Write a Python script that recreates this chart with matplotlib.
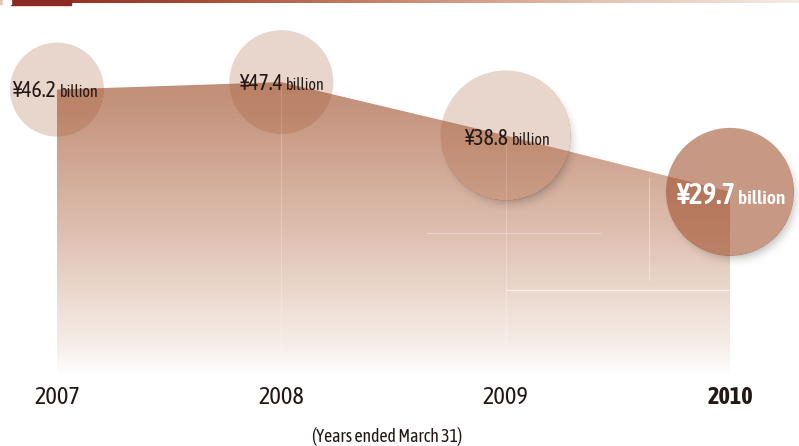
import numpy as np
import matplotlib.pyplot as plt
from matplotlib.colors import LinearSegmentedColormap
from matplotlib.patches import Ellipse, Polygon, Rectangle

# net income, billions of yen
years = [2007, 2008, 2009, 2010]
values = [46.2, 47.4, 38.8, 29.7]
value_labels = ["¥46.2", "¥47.4", "¥38.8", "¥29.7"]
year_labels = ["2007", "2008", "2009", "2010"]
note = "(Years ended March 31)"

plt.rcParams["font.family"] = ["Asap Condensed", "DejaVu Sans"]

W, H = 799, 446
fig = plt.figure(figsize=(W / 100, H / 100), dpi=100)
ax = fig.add_axes([0, 0, 1, 1])
ax.axis("off")

# pixel scale: 224.3 px per year, 6.2 px per billion, zero at 376 px from top
px_year = 224.33
px_val = 6.2
x0 = 2007 - 57 / px_year
xlim = (x0, x0 + W / px_year)
ylim = (-(H - 376) / px_val, 376 / px_val)
ax.set_xlim(*xlim)
ax.set_ylim(*ylim)

# gradient-filled area
stops = [(0, "#ffffff"), (4.7, "#f6eee9"), (12.7, "#ecdad0"),
         (23.5, "#debeaf"), (42.4, "#c69680"), (48, "#c28d76")]
cmap = LinearSegmentedColormap.from_list(
    "area", [(v / 48, c) for v, c in stops])
grad = np.linspace(0, 1, 400).reshape(-1, 1)
im = ax.imshow(grad, extent=(years[0], years[-1], 0, 48), origin="lower",
               aspect="auto", cmap=cmap, zorder=1)
area = Polygon([(years[0], 0)] + list(zip(years, values)) + [(years[-1], 0)],
               closed=True, facecolor="none", edgecolor="none")
ax.add_patch(area)
im.set_clip_path(area)

# faint panel lines inside the area
for yr, v in zip(years[1:3], values[1:3]):
    ax.plot([yr, yr], [0, v], color="white", lw=0.7, alpha=0.25, zorder=2)
ax.plot([years[2], years[3]], [13.9, 13.9], color="white", lw=0.8,
        alpha=0.6, zorder=2)
ax.plot([2008.65, 2009.42], [23.0, 23.0], color="white", lw=0.7,
        alpha=0.35, zorder=2)
ax.plot([2009.64, 2009.64], [15.5, 32.0], color="white", lw=0.7,
        alpha=0.4, zorder=2)

# soft shadows under the two later bubbles
radii = [47, 52, 65, 64]
yy, xx = np.mgrid[0:H, 0:W] + 0.5
shadow = np.zeros((H, W))
inside = np.zeros((H, W), dtype=bool)
for yr, v, r in list(zip(years, values, radii))[2:]:
    cx, cy = ax.transData.transform((yr, v))
    d = np.hypot(xx - (cx + 4), yy - (cy - 6))
    s = np.clip((r + 7 - d) / 14, 0, 1)
    shadow = np.maximum(shadow, s * s * 0.3)
    inside |= np.hypot(xx - cx, yy - cy) < r - 0.5
shadow[inside] = 0
rgba = np.zeros((H, W, 4))
rgba[..., :3] = [0.3, 0.27, 0.25]
rgba[..., 3] = shadow
ax.imshow(rgba, extent=(*xlim, *ylim), origin="lower", aspect="auto",
          zorder=3)
ax.set_xlim(*xlim)
ax.set_ylim(*ylim)

# bubbles
for i, (yr, v, r) in enumerate(zip(years, values, radii)):
    last = i == len(years) - 1
    ax.add_patch(Ellipse((yr, v), 2 * r / px_year, 2 * r / px_val,
                         facecolor="#9c4a26" if last else "#a0552c",
                         alpha=0.56 if last else 0.24,
                         edgecolor="none", zorder=4))

# value labels: big amount + small "billion"
label_style = [(15.5, 11.5, 0, 7), (15.5, 11.5, 2, 8), (15.5, 11.5, 3, 10),
               (21, 14, 5, 12)]
for i, (yr, v, lab) in enumerate(zip(years, values, value_labels)):
    big, small, dx, dy = label_style[i]
    last = i == len(years) - 1
    col = "white" if last else "#231815"
    wt = 600 if last else "normal"
    ax.annotate(lab, (yr, v), xytext=(dx, -dy), textcoords="offset pixels",
                ha="right", va="baseline", fontsize=big, color=col,
                fontweight=wt, zorder=6)
    ax.annotate("billion", (yr, v), xytext=(dx + 3, -dy),
                textcoords="offset pixels", ha="left", va="baseline",
                fontsize=small, color=col, fontweight=wt, zorder=6)

# year axis labels
for i, (yr, lab) in enumerate(zip(years, year_labels)):
    last = i == len(years) - 1
    ax.text(yr, -(398 - 376) / px_val, lab, ha="center", va="center",
            fontsize=17.5, color="#231815",
            fontweight="bold" if last else "normal")
fig.text(387 / W, 1 - 437 / H, note, ha="center", va="center",
         fontsize=12.8, color="#231815")

# header rule
bar = fig.add_axes([0, 1 - 3.5 / H, 1, 3.5 / H])
bar.axis("off")
hdr = LinearSegmentedColormap.from_list(
    "hdr", ["#8a261c", "#a84a36", "#c98a70", "#e3c2b0", "#f5ebe5"])
bar.imshow(np.linspace(0, 1, 400).reshape(1, -1), cmap=hdr, aspect="auto",
           extent=(0, W, 0, 1))
bar.set_xlim(0, W)
fig.patches.append(Rectangle((11 / W, 1 - 4.5 / H), 60 / W, 4.5 / H,
                             transform=fig.transFigure, color="#8a2a20"))
fig.patches.append(Rectangle((0, 1 - 3.5 / H), 3 / W, 3.5 / H,
                             transform=fig.transFigure, color="#e6c6b8"))
fig.patches.append(Rectangle((3 / W, 1 - 3.5 / H), 8 / W, 3.5 / H,
                             transform=fig.transFigure, color="white"))

fig.savefig("out.png", dpi=100)
